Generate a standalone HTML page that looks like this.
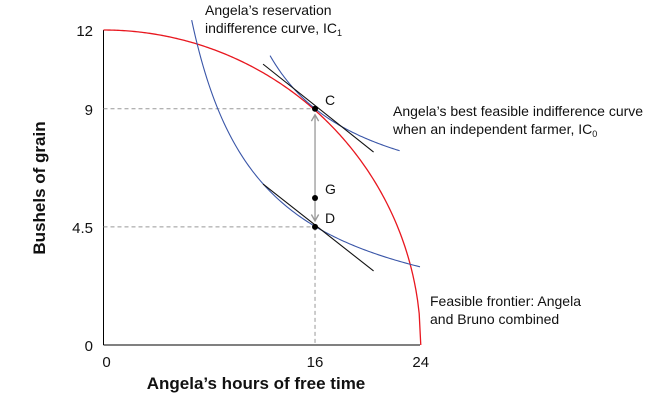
<!DOCTYPE html>
<html><head><meta charset="utf-8"><style>
body{margin:0;background:#fff;}
svg text{font-family:"Liberation Sans",sans-serif;fill:#111;}
</style></head><body>
<svg id="c" width="668" height="402">
<defs><marker id="ah" viewBox="0 0 10 10" refX="8" refY="5" markerWidth="7" markerHeight="7" orient="auto-start-reverse"><path d="M1,1 L8,5 L1,9" fill="none" stroke="#999" stroke-width="1.5"/></marker></defs>
</svg>
<script>
const xTicks=[0,16,24];
const yTicks=[0,4.5,9,12];
const ic1X=[6.67,7.68,8.94,10.17,11.69,13.73,16,17.9,20.9,23.94];
const ic1Y=[12.38,10.22,8.95,7.43,6.29,5.26,4.5,3.95,3.40,3.09];
const ic0X=[12.6,14.49,16,18.4,20.4,22.4];
const ic0Y=[10.98,9.84,9,8.06,7.74,7.49];
const tanC=[[12.07,10.70],[20.43,7.35]];
const tanD=[[12.07,6.13],[20.43,2.82]];
const points=[{n:'C',x:16,y:9},{n:'G',x:16,y:5.6},{n:'D',x:16,y:4.5}];
const frontierMax=[24,12];
const sx=v=>103.5+v*13.22, sy=v=>345-v*26.25;
const svg=document.getElementById('c'),NS='http://www.w3.org/2000/svg';
function mk(t,a,p){const e=document.createElementNS(NS,t);for(const k in a)e.setAttribute(k,a[k]);(p||svg).appendChild(e);return e;}
// least-squares fit y = a + b/(x-c) through the read points, drawn smoothly
function fitCurve(X,Y){
  let best=null;
  for(let c=-10;c<Math.min(...X)-0.3;c+=0.05){
    const u=X.map(x=>1/(x-c));const n=X.length;
    let su=0,sy_=0,suu=0,suy=0;for(let i=0;i<n;i++){su+=u[i];sy_+=Y[i];suu+=u[i]*u[i];suy+=u[i]*Y[i];}
    const b=(n*suy-su*sy_)/(n*suu-su*su),a=(sy_-b*su)/n;
    let err=0;for(let i=0;i<n;i++)err+=(a+b*u[i]-Y[i])**2;
    if(!best||err<best.err)best={a,b,c,err};}
  let d='';const x0=X[0],x1=X[X.length-1];
  for(let k=0;k<=120;k++){const x=x0+(x1-x0)*k/120,y=best.a+best.b/(x-best.c);d+=(k?'L':'M')+sx(x).toFixed(2)+','+sy(y).toFixed(2);}
  return d;}
let e=mk('line',{x1:103.5,y1:30,x2:103.5,y2:345,stroke:'#000','stroke-width':1});

e=mk('line',{x1:103.5,y1:345,x2:420,y2:345,stroke:'#000','stroke-width':1});

xTicks.forEach(v=>{const t=mk('text',{x:sx(v)+(v===0?3:0),y:367,'text-anchor':'middle','font-size':15});t.textContent=v;
});
yTicks.forEach(v=>{const t=mk('text',{x:93,y:sy(v)+6,'text-anchor':'end','font-size':15});t.textContent=v;
});
e=mk('text',{x:256,y:389,'text-anchor':'middle','font-size':17,'font-weight':'bold'});e.textContent='Angela’s hours of free time';

e=mk('text',{x:0,y:0,'text-anchor':'middle','font-size':17,'font-weight':'bold',transform:'translate(45,188) rotate(-90)'});e.textContent='Bushels of grain';

[9,4.5].forEach(v=>{const l=mk('line',{x1:103.5,y1:sy(v),x2:sx(16),y2:sy(v),stroke:'#999','stroke-dasharray':'4,3'});
});
e=mk('line',{x1:sx(16),y1:sy(4.5),x2:sx(16),y2:345,stroke:'#999','stroke-dasharray':'4,3'});

let d='';for(let i=0;i<=200;i++){const x=frontierMax[0]*i/200,y=frontierMax[1]*Math.sqrt(Math.max(0,1-(x/frontierMax[0])**2));d+=(i?'L':'M')+sx(x).toFixed(2)+','+sy(y).toFixed(2);}
e=mk('path',{d,fill:'none',stroke:'#e8171f','stroke-width':1.3});

e=mk('path',{d:fitCurve(ic1X,ic1Y),fill:'none',stroke:'#3a56a8','stroke-width':1.1});

e=mk('path',{d:fitCurve(ic0X,ic0Y),fill:'none',stroke:'#3a56a8','stroke-width':1.1});

[tanC,tanD].forEach(t=>{const l=mk('line',{x1:sx(t[0][0]),y1:sy(t[0][1]),x2:sx(t[1][0]),y2:sy(t[1][1]),stroke:'#111','stroke-width':1.1});
});
e=mk('line',{x1:sx(16),y1:sy(9)+6,x2:sx(16),y2:sy(4.5)-6,stroke:'#999','stroke-width':1.3,'marker-start':'url(#ah)','marker-end':'url(#ah)'});

points.forEach(p=>{const c=mk('circle',{cx:sx(p.x),cy:sy(p.y),r:3,fill:'#000'});

const t=mk('text',{x:sx(p.x)+10,y:sy(p.y)-4,'font-size':14});t.textContent=p.n;
});
function lab(x,y,lines,name){const t=mk('text',{x,y,'font-size':14});
lines.forEach((s,i)=>{const ts=mk('tspan',{x,dy:i?18:0},t);ts.innerHTML=s;});}
lab(205,15,['Angela’s reservation','indifference curve, IC<tspan font-size="9" dy="3">1</tspan>'],'ic1-label');
lab(393,116,['Angela’s best feasible indifference curve','when an independent farmer, IC<tspan font-size="9" dy="3">0</tspan>'],'ic0-label');
lab(430,306,['Feasible frontier: Angela','and Bruno combined'],'frontier-label');
</script>
</body></html>
